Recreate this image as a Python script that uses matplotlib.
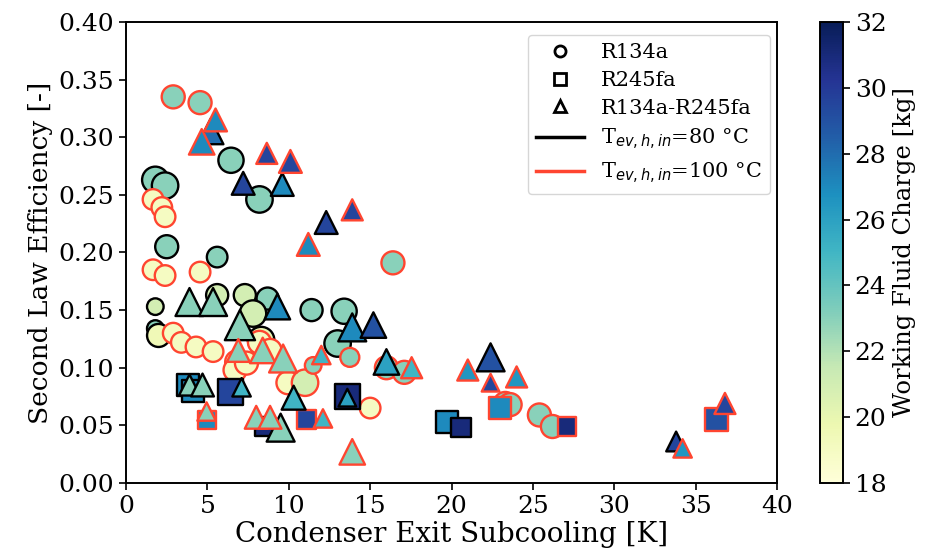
import matplotlib
matplotlib.use('Agg')
from matplotlib.pyplot import figure
from matplotlib.lines import Line2D
from matplotlib.colors import Normalize
from matplotlib.cm import ScalarMappable

matplotlib.rcParams['font.family'] = 'DejaVu Serif'

# R134a, T_ev,h,in = 80 C  (x subcooling [K], y efficiency, charge [kg], marker size)
c80_x = [1.8, 2.4, 2.5, 5.6, 6.45, 8.2, 1.8, 1.8, 2.0, 5.6, 7.3, 8.7, 7.8, 11.4, 13.4, 13.0, 8.3]
c80_y = [0.263, 0.258, 0.205, 0.196, 0.280, 0.246, 0.153, 0.134, 0.128, 0.163, 0.163, 0.160,
         0.147, 0.150, 0.149, 0.121, 0.124]
c80_q = [23, 23, 23, 23, 23, 23, 21, 23, 19.5, 21, 21, 23, 21, 23, 23, 23, 20]
c80_s = [330, 330, 250, 200, 300, 330, 130, 130, 250, 230, 230, 230, 330, 230, 300, 330, 330]

# R134a, 100 C
c100_x = [2.9, 4.55, 1.66, 2.2, 2.4, 1.66, 2.4, 4.55, 2.9, 3.4, 4.3, 5.35, 6.8, 6.7, 7.4, 8.2,
          8.85, 9.95, 11.0, 11.5, 13.75, 15.0, 16.4, 16.0, 17.1, 23.3, 23.6, 25.4, 26.2]
c100_y = [0.335, 0.330, 0.246, 0.239, 0.231, 0.185, 0.180, 0.183, 0.130, 0.122, 0.118, 0.114,
          0.105, 0.098, 0.104, 0.122, 0.115, 0.087, 0.087, 0.102, 0.109, 0.065, 0.191, 0.100,
          0.096, 0.069, 0.068, 0.059, 0.049]
c100_q = [23, 23, 19, 19, 19, 19, 19, 19, 19, 19, 19, 19, 19, 19, 19, 19, 19, 19, 21, 23, 23,
          19, 23, 23, 23, 23, 23, 23, 23]
c100_s = [250, 250, 200, 200, 200, 200, 200, 200, 200, 200, 200, 200, 250, 250, 250, 250, 250,
          250, 330, 130, 170, 200, 250, 250, 250, 250, 250, 250, 250]

# R245fa, 80 C
s80_x = [3.8, 4.1, 6.4, 8.5, 13.6, 19.7, 20.6]
s80_y = [0.085, 0.080, 0.079, 0.049, 0.075, 0.053, 0.048]
s80_q = [27, 27, 29.5, 31, 31, 27, 31]
s80_s = [250, 250, 330, 200, 330, 250, 200]

# R245fa, 100 C
s100_x = [4.95, 11.1, 23.0, 27.1, 36.3]
s100_y = [0.055, 0.055, 0.065, 0.049, 0.055]
s100_q = [27, 29.5, 27, 31, 29]
s100_s = [170, 200, 250, 170, 280]

# R134a-R245fa, 80 C
t80_x = [5.2, 7.2, 9.6, 3.9, 5.35, 7.0, 9.3, 13.9, 15.2, 12.3, 3.9, 4.7, 7.1, 10.3, 9.5, 13.6,
         16.0, 22.4, 33.8]
t80_y = [0.305, 0.260, 0.259, 0.157, 0.157, 0.137, 0.153, 0.135, 0.137, 0.226, 0.085, 0.085,
         0.083, 0.074, 0.048, 0.074, 0.105, 0.109, 0.036]
t80_q = [28, 29.5, 27, 23, 23, 23, 27, 27, 29, 29.5, 23, 23, 25, 25, 23, 26, 26, 29, 29.5]
t80_s = [250, 200, 200, 300, 300, 350, 250, 300, 250, 200, 170, 200, 130, 220, 300, 120, 250,
         300, 150]

# R134a-R245fa, 100 C
t100_x = [5.5, 4.65, 8.65, 10.1, 11.2, 13.9, 6.9, 8.4, 9.65, 12.0, 4.95, 8.0, 8.85, 12.1, 13.9,
          17.55, 21.0, 22.4, 24.0, 34.2, 36.8]
t100_y = [0.315, 0.296, 0.286, 0.279, 0.207, 0.237, 0.115, 0.115, 0.108, 0.111, 0.062, 0.057,
          0.057, 0.056, 0.027, 0.100, 0.098, 0.087, 0.092, 0.030, 0.069]
t100_q = [27, 27, 29.5, 29.5, 27, 29.5, 23, 23, 23, 25, 23, 23, 23, 25, 23, 25, 26.5, 29.5,
          26.5, 26.5, 29.5]
t100_s = [200, 250, 170, 200, 200, 170, 200, 250, 300, 130, 130, 200, 200, 130, 250, 170, 170,
          120, 170, 130, 170]

red = '#ff4530'
cmap = 'YlGnBu'
norm = Normalize(18, 32)

fig = figure(figsize=(9.28, 5.59), dpi=100)
ax = fig.add_axes([0.1358, 0.136, 0.7015, 0.8247])
cax = fig.add_axes([0.8836, 0.136, 0.0248, 0.8247])

groups = [
    (c80_x, c80_y, c80_q, c80_s, 'o', 'k', 1.1),
    (c100_x, c100_y, c100_q, c100_s, 'o', red, 1.1),
    (s80_x, s80_y, s80_q, s80_s, 's', 'k', 1.0),
    (s100_x, s100_y, s100_q, s100_s, 's', red, 1.0),
    (t80_x, t80_y, t80_q, t80_s, '^', 'k', 1.35),
    (t100_x, t100_y, t100_q, t100_s, '^', red, 1.35),
]
for x, y, q, s, m, ec, k in groups:
    ax.scatter(x, y, c=q, s=[v * k for v in s], marker=m, cmap=cmap, norm=norm,
               edgecolors=ec, linewidths=1.7)

ax.set_xlim(0, 40)
ax.set_ylim(0, 0.40)
ax.set_xticks(range(0, 41, 5))
ax.set_yticks([0.0, 0.05, 0.10, 0.15, 0.20, 0.25, 0.30, 0.35, 0.40])
ax.set_yticklabels(['0.00', '0.05', '0.10', '0.15', '0.20', '0.25', '0.30', '0.35', '0.40'])
ax.tick_params(labelsize=18, width=1.2, length=5)
for sp in ax.spines.values():
    sp.set_linewidth(1.4)
ax.set_xlabel('Condenser Exit Subcooling [K]', fontsize=20, labelpad=2)
ax.set_ylabel('Second Law Efficiency [-]', fontsize=19, labelpad=4)

handles = [
    Line2D([], [], marker='o', ls='none', mfc='none', mec='k', mew=2, ms=8),
    Line2D([], [], marker='s', ls='none', mfc='none', mec='k', mew=2, ms=8),
    Line2D([], [], marker='^', ls='none', mfc='none', mec='k', mew=2, ms=8),
    Line2D([], [], color='k', lw=2.5),
    Line2D([], [], color=red, lw=2.5),
]
labels = ['R134a', 'R245fa', 'R134a-R245fa', r'T$_{ev,h,in}$=80 °C', r'T$_{ev,h,in}$=100 °C']
ax.legend(handles, labels, loc='upper right', fontsize=15, handlelength=2.3,
          borderpad=0.4, labelspacing=0.42, handletextpad=0.8, borderaxespad=0,
          bbox_to_anchor=(0.989, 0.972))

cb = fig.colorbar(ScalarMappable(norm=norm, cmap=cmap), cax=cax)
cb.set_ticks(range(18, 33, 2))
cb.ax.tick_params(labelsize=18, width=1.2, length=5)
cb.outline.set_linewidth(1.4)
cb.set_label('Working Fluid Charge [kg]', fontsize=17.5, labelpad=5)

fig.savefig('out.png', dpi=100)
